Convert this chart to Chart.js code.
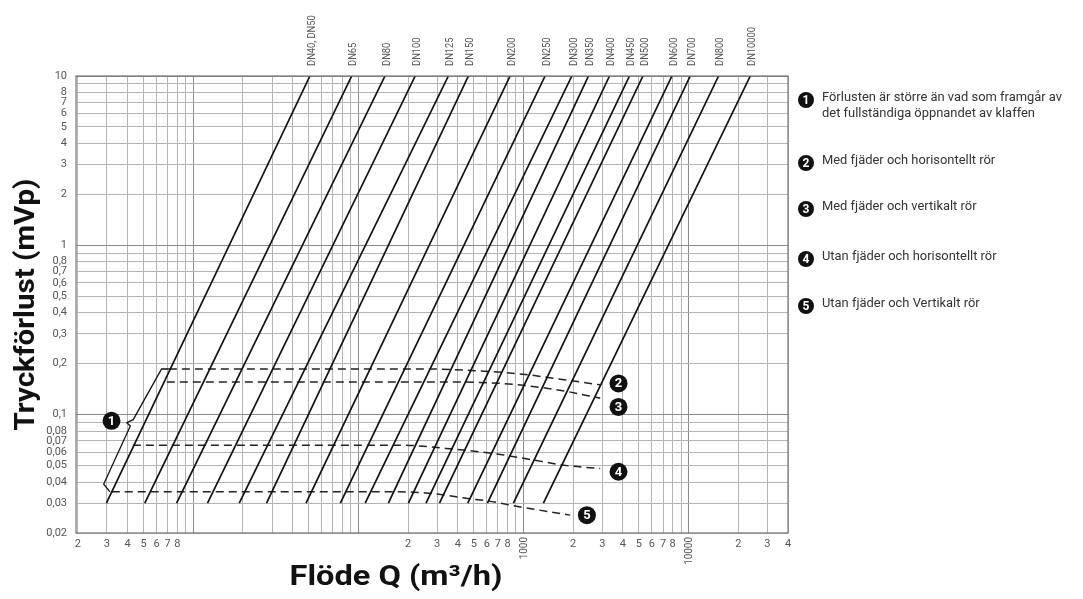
<!DOCTYPE html>
<html>
<head>
<meta charset="utf-8">
<script src="https://cdn.jsdelivr.net/npm/chart.js@4.4.0/dist/chart.umd.min.js"></script>
<style>
  body { margin: 0; background: #fff; }
</style>
</head>
<body>
<canvas id="lossChart" width="1083" height="599"></canvas>
<script>
// ventilstorlekar, flöde vid 0,03 mVp och vid 10 mVp
const dnNames = ['DN40, DN50', 'DN65', 'DN80', 'DN100', 'DN125', 'DN150', 'DN200', 'DN250', 'DN300',
  'DN350', 'DN400', 'DN450', 'DN500', 'DN600', 'DN700', 'DN800', 'DN10000'];
const dnFlowLow = [2.98, 5.09, 7.93, 12.2, 19.0, 27.8, 48.2, 77.8, 110, 152, 201, 257, 310, 460, 605, 869, 1321];
const dnFlowHigh = [50.9, 91.2, 145, 221, 351, 464, 830, 1352, 1964, 2476, 3320, 4386, 5292, 7928, 10234, 15194, 23646];
const dnLoss = [0.03, 10];

// streckade kurvor 2-5
const curve2Flow = [7.12, 272, 546, 955, 1668, 2916];
const curve2Loss = [0.186, 0.186, 0.181, 0.174, 0.162, 0.150];
const curve3Flow = [6.92, 313, 722, 1262, 1839, 2916];
const curve3Loss = [0.156, 0.156, 0.153, 0.145, 0.137, 0.125];
const curve4Flow = [4.31, 179, 413, 655, 1145, 1839, 2916];
const curve4Loss = [0.066, 0.066, 0.062, 0.059, 0.054, 0.050, 0.048];
const curve5Flow = [3.21, 179, 300, 456, 602, 865, 1918];
const curve5Loss = [0.035, 0.035, 0.034, 0.032, 0.031, 0.029, 0.0255];

// klammer for 1
const braceFlow = [7.12, 6.43, 4.33, 3.96, 4.16, 2.87, 3.13];
const braceLoss = [0.186, 0.186, 0.0934, 0.0897, 0.0857, 0.0389, 0.035];

// numrerade markeringar i diagrammet
const markerText = ['1', '2', '3', '4', '5'];
const markerFlow = [3.2, 3764, 3764, 3764, 2422];
const markerLoss = [0.092, 0.153, 0.111, 0.046, 0.0255];

const legendTexts = [
  ['Förlusten är större än vad som framgår av', 'det fullständiga öppnandet av klaffen'],
  ['Med fjäder och horisontellt rör'],
  ['Med fjäder och vertikalt rör'],
  ['Utan fjäder och horisontellt rör'],
  ['Utan fjäder och Vertikalt rör']
];

const xTickValues = [2, 3, 4, 5, 6, 7, 8, 9, 10, 20, 30, 40, 50, 60, 70, 80, 90, 100, 200, 300, 400, 500, 600, 700, 800, 900,
  1000, 2000, 3000, 4000, 5000, 6000, 7000, 8000, 9000, 10000, 20000, 30000, 40000];
const xTickText = ['2', '3', '4', '5', '6', '7', '8', '', '', '', '', '', '', '', '', '', '', '', '2', '3', '4', '5', '6', '7', '8', '',
  '', '2', '3', '4', '5', '6', '7', '8', '', '', '2', '3', '4'];
const xRotatedValues = [1000, 10000];

const yTickValues = [0.02, 0.03, 0.04, 0.05, 0.06, 0.07, 0.08, 0.09, 0.1, 0.2, 0.3, 0.4, 0.5, 0.6, 0.7, 0.8, 0.9,
  1, 2, 3, 4, 5, 6, 7, 8, 9, 10];
const yTickText = ['0,02', '0,03', '0,04', '0,05', '0,06', '0,07', '0,08', '', '0,1', '0,2', '0,3', '0,4', '0,5', '0,6', '0,7', '0,8', '',
  '1', '2', '3', '4', '5', '6', '7', '8', '', '10'];

const FONT = 'Roboto, "Liberation Sans", "DejaVu Sans", sans-serif';

const pts = (xs, ys) => xs.map((v, i) => ({ x: v, y: ys[i] }));
const isDecade = v => Math.abs(Math.log10(v) - Math.round(Math.log10(v))) < 1e-9;

const datasets = [];
dnNames.forEach((name, i) => {
  datasets.push({
    label: name,
    data: [{ x: dnFlowLow[i], y: dnLoss[0] }, { x: dnFlowHigh[i], y: dnLoss[1] }],
    borderColor: '#111',
    borderWidth: 1.7,
    pointRadius: 0
  });
});
[[curve2Flow, curve2Loss], [curve3Flow, curve3Loss], [curve4Flow, curve4Loss], [curve5Flow, curve5Loss]].forEach(c => {
  datasets.push({
    data: pts(c[0], c[1]),
    borderColor: '#222',
    borderWidth: 1.5,
    borderDash: [8, 5],
    pointRadius: 0,
    cubicInterpolationMode: 'monotone'
  });
});
datasets.push({
  data: pts(braceFlow, braceLoss),
  borderColor: '#111',
  borderWidth: 1.3,
  pointRadius: 0
});

function badge(ctx, cx, cy, r, txt) {
  ctx.beginPath();
  ctx.arc(cx, cy, r, 0, Math.PI * 2);
  ctx.fillStyle = '#111';
  ctx.fill();
  ctx.fillStyle = '#fff';
  ctx.font = 'bold ' + Math.round(r * 1.45) + 'px ' + FONT;
  ctx.textAlign = 'center';
  ctx.textBaseline = 'middle';
  ctx.fillText(txt, cx, cy + 0.5);
}

// text hoptryckt i sidled (smal stil)
function narrowText(ctx, txt, px, py, sx, rot, align) {
  ctx.save();
  ctx.translate(px, py);
  ctx.rotate(rot || 0);
  ctx.scale(sx, 1);
  ctx.textAlign = align || 'left';
  ctx.textBaseline = 'middle';
  ctx.fillText(txt, 0, 0);
  ctx.restore();
}

function fitText(ctx, txt, cx, cy, width, rot) {
  const w = ctx.measureText(txt).width;
  narrowText(ctx, txt, cx, cy, width / w, rot, 'center');
}

const decor = {
  id: 'decor',
  afterDatasetsDraw(chart) {
    const { ctx, chartArea: a, scales: { x, y } } = chart;
    ctx.save();
    ctx.strokeStyle = '#777';
    ctx.lineWidth = 1.2;
    ctx.strokeRect(a.left, a.top, a.right - a.left, a.bottom - a.top);

    // DN-etiketter ovanfor linjerna
    ctx.fillStyle = '#555';
    ctx.font = '11px ' + FONT;
    dnNames.forEach((n, i) => {
      const px = x.getPixelForValue(dnFlowHigh[i]) + 2;
      narrowText(ctx, n, px, a.top - 10, 0.85, -Math.PI / 2, 'left');
    });

    // 1000 och 10000 star lodratt
    ctx.font = '11px ' + FONT;
    xRotatedValues.forEach(v => {
      narrowText(ctx, String(v), x.getPixelForValue(v) + 1, a.bottom + 4, 0.9, -Math.PI / 2, 'right');
    });

    markerText.forEach((t, i) => {
      badge(ctx, x.getPixelForValue(markerFlow[i]), y.getPixelForValue(markerLoss[i]), 9, t);
    });

    // axeltitlar
    ctx.fillStyle = '#111';
    ctx.font = 'bold 28px ' + FONT;
    fitText(ctx, 'Tryckförlust (mVp)', 27, (a.top + a.bottom) / 2, 252, -Math.PI / 2);
    fitText(ctx, 'Flöde Q (m³/h)', 396, 578, 213, 0);

    // forklaringar till hoger
    const ly = [100, 163, 209, 259, 306];
    ctx.font = '13px ' + FONT;
    const sx = 240 / ctx.measureText(legendTexts[0][0]).width;
    legendTexts.forEach((lines, i) => {
      badge(ctx, 806, ly[i], 8, String(i + 1));
      ctx.fillStyle = '#333';
      ctx.font = '13px ' + FONT;
      lines.forEach((l, j) => narrowText(ctx, l, 822, ly[i] - 2 + j * 16, sx, 0, 'left'));
    });
    ctx.restore();
  }
};

new Chart(document.getElementById('lossChart').getContext('2d'), {
  type: 'line',
  data: { datasets },
  options: {
    responsive: false,
    animation: false,
    layout: { padding: { top: 76, right: 295, left: 0, bottom: 0 } },
    scales: {
      x: {
        type: 'logarithmic',
        min: 1.95,
        max: 40000,
        afterBuildTicks: s => { s.ticks = xTickValues.map(v => ({ value: v })); },
        afterFit: s => { s.height = 66; },
        grid: {
          drawTicks: false,
          color: c => (c.tick && isDecade(c.tick.value)) ? '#8a8a8a' : '#b4b4b4',
          lineWidth: 1
        },
        border: { display: false },
        ticks: {
          autoSkip: false,
          maxRotation: 0,
          padding: 5,
          color: '#555',
          font: { family: FONT, size: 11 },
          callback: (v, i) => xTickText[i]
        }
      },
      y: {
        type: 'logarithmic',
        min: 0.02,
        max: 10,
        afterBuildTicks: s => { s.ticks = yTickValues.map(v => ({ value: v })); },
        afterFit: s => { s.width = 76; },
        grid: {
          drawTicks: false,
          color: c => (c.tick && isDecade(c.tick.value)) ? '#8a8a8a' : '#b4b4b4',
          lineWidth: 1
        },
        border: { display: false },
        ticks: {
          autoSkip: false,
          padding: 9,
          color: '#555',
          font: { family: FONT, size: 11 },
          callback: (v, i) => yTickText[i]
        }
      }
    },
    plugins: {
      legend: { display: false },
      tooltip: { enabled: false }
    }
  },
  plugins: [decor]
});
</script>
</body>
</html>
